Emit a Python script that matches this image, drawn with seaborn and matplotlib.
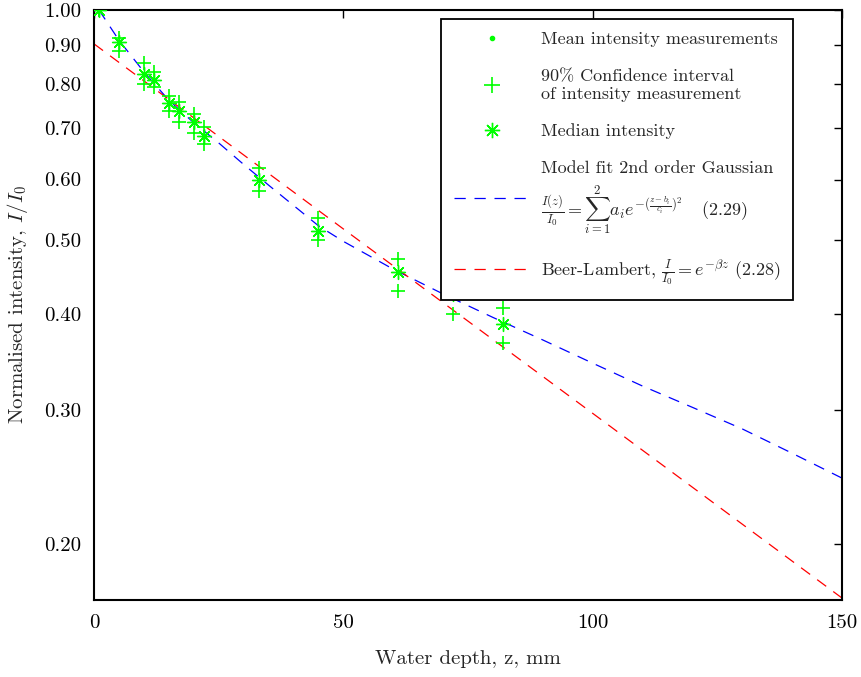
import matplotlib
matplotlib.use("Agg")
import matplotlib.pyplot as plt
from matplotlib.lines import Line2D
from matplotlib.ticker import FixedLocator, FixedFormatter, NullLocator
import seaborn as sns
import pandas as pd

# ---- data ----
depth = [1, 5, 10, 12, 15, 17, 20, 22, 33, 45, 61, 72, 82]
median_int = [1.00, 0.909, 0.824, 0.811, 0.755, 0.738, 0.713, 0.685, 0.599, 0.514, 0.4535, 0.425, 0.388]
mean_int = [1.00, 0.909, 0.824, 0.811, 0.755, 0.738, 0.713, 0.685, 0.599, 0.514, 0.4535, 0.425, 0.388]
ci_upper = [1.00, 0.920, 0.852, 0.830, 0.772, 0.757, 0.731, 0.702, 0.621, 0.534, 0.472, 0.445, 0.407]
ci_lower = [1.00, 0.885, 0.800, 0.792, 0.737, 0.714, 0.691, 0.667, 0.580, 0.500, 0.429, 0.400, 0.367]

gauss_z = [1, 5, 10, 15, 20, 25, 30, 35, 40, 45, 50, 60, 70, 80, 90, 100, 110, 120, 130, 140, 150]
gauss_fit = [1.00, 0.913, 0.830, 0.762, 0.712, 0.670, 0.628, 0.590, 0.555, 0.522, 0.498, 0.458,
             0.425, 0.396, 0.370, 0.345, 0.322, 0.302, 0.283, 0.263, 0.244]

beer_z = [0, 50, 100, 150]
beer_fit = [0.903, 0.517, 0.2966, 0.170]

y_ticks = [0.20, 0.30, 0.40, 0.50, 0.60, 0.70, 0.80, 0.90, 1.00]
y_tick_labels = ["0.20", "0.30", "0.40", "0.50", "0.60", "0.70", "0.80", "0.90", "1.00"]
x_ticks = [0, 50, 100, 150]
x_tick_labels = ["0", "50", "100", "150"]

# ---- style ----
sns.set_style("white")
plt.rcParams["font.family"] = ["cmr10", "DejaVu Serif"]
plt.rcParams["mathtext.fontset"] = "cm"
plt.rcParams["axes.unicode_minus"] = False
plt.rcParams["axes.formatter.use_mathtext"] = True

GREEN = "#00ff00"
fig = plt.figure(figsize=(8.62, 6.77), dpi=100)
ax = fig.add_axes([94 / 862, 1 - 600 / 677, 748 / 862, 590 / 677])

dash = (0, (9, 7))
sns.lineplot(x=gauss_z, y=gauss_fit, ax=ax, color="#0000ff", lw=0.9, linestyle=dash, zorder=2)
sns.lineplot(x=beer_z, y=beer_fit, ax=ax, color="#ff0000", lw=0.9, linestyle=dash, zorder=2)

df_ci = pd.DataFrame({"z": depth * 2, "v": ci_upper + ci_lower})
sns.scatterplot(data=df_ci, x="z", y="v", ax=ax, marker="+", s=105, color=GREEN,
                linewidth=1.2, zorder=3)
sns.scatterplot(x=depth, y=median_int, ax=ax, marker=(8, 2, 0), s=100, color=GREEN,
                edgecolor=GREEN, linewidth=1.0, zorder=4)
sns.scatterplot(x=depth, y=mean_int, ax=ax, marker="o", s=14, color=GREEN,
                edgecolor=GREEN, linewidth=0, zorder=5)

ax.set_yscale("log")
ax.set_xlim(0, 150)
ax.set_ylim(0.169, 1.0)
ax.yaxis.set_major_locator(FixedLocator(y_ticks))
ax.yaxis.set_major_formatter(FixedFormatter(y_tick_labels))
ax.yaxis.set_minor_locator(NullLocator())
ax.xaxis.set_major_locator(FixedLocator(x_ticks))
ax.xaxis.set_major_formatter(FixedFormatter(x_tick_labels))
ax.tick_params(axis="both", which="major", direction="in", length=6, width=1,
               top=True, right=True, labelsize=15, colors="black")
ax.tick_params(axis="y", pad=9)
ax.tick_params(axis="x", pad=10)
for sp in ax.spines.values():
    sp.set_linewidth(1.5)
    sp.set_color("black")

ax.set_xlabel("Water depth, z, mm", fontsize=15, labelpad=13)
ax.set_ylabel("Normalised intensity, $I/I_0$", fontsize=15, labelpad=10)

handles = [
    Line2D([], [], linestyle="none", marker="o", markersize=3, color=GREEN),
    Line2D([], [], linestyle="none", marker="+", markersize=11, mew=1.2, color=GREEN),
    Line2D([], [], linestyle="none", marker=(8, 2, 0), markersize=11, mew=1.0, color=GREEN),
    Line2D([], [], color="#0000ff", lw=0.9, linestyle=dash),
    Line2D([], [], color="#ff0000", lw=0.9, linestyle=dash),
]
labels = [
    "Mean intensity measurements",
    "90% Confidence interval\nof intensity measurement",
    "Median intensity",
    "Model fit 2nd order Gaussian\n"
    r"$\frac{I(z)}{I_0}=\sum_{i=1}^{2}a_i e^{-(\frac{z-b_i}{c_i})^2}$   $\mathregular{(2.29)}$",
    r"Beer-Lambert, $\frac{I}{I_0}=e^{-\beta z}$ $\mathregular{(2.28)}$",
]
leg = ax.legend(handles, labels, loc="upper right", bbox_to_anchor=(0.9345, 0.985),
                borderaxespad=0, frameon=True, fancybox=False, fontsize=13,
                handlelength=4.2, handletextpad=0.6, labelspacing=1.2,
                borderpad=0.7, framealpha=1.0)
leg.get_frame().set_edgecolor("black")
leg.get_frame().set_linewidth(1.3)
leg.set_zorder(10)

fig.savefig("out.png", dpi=100)
